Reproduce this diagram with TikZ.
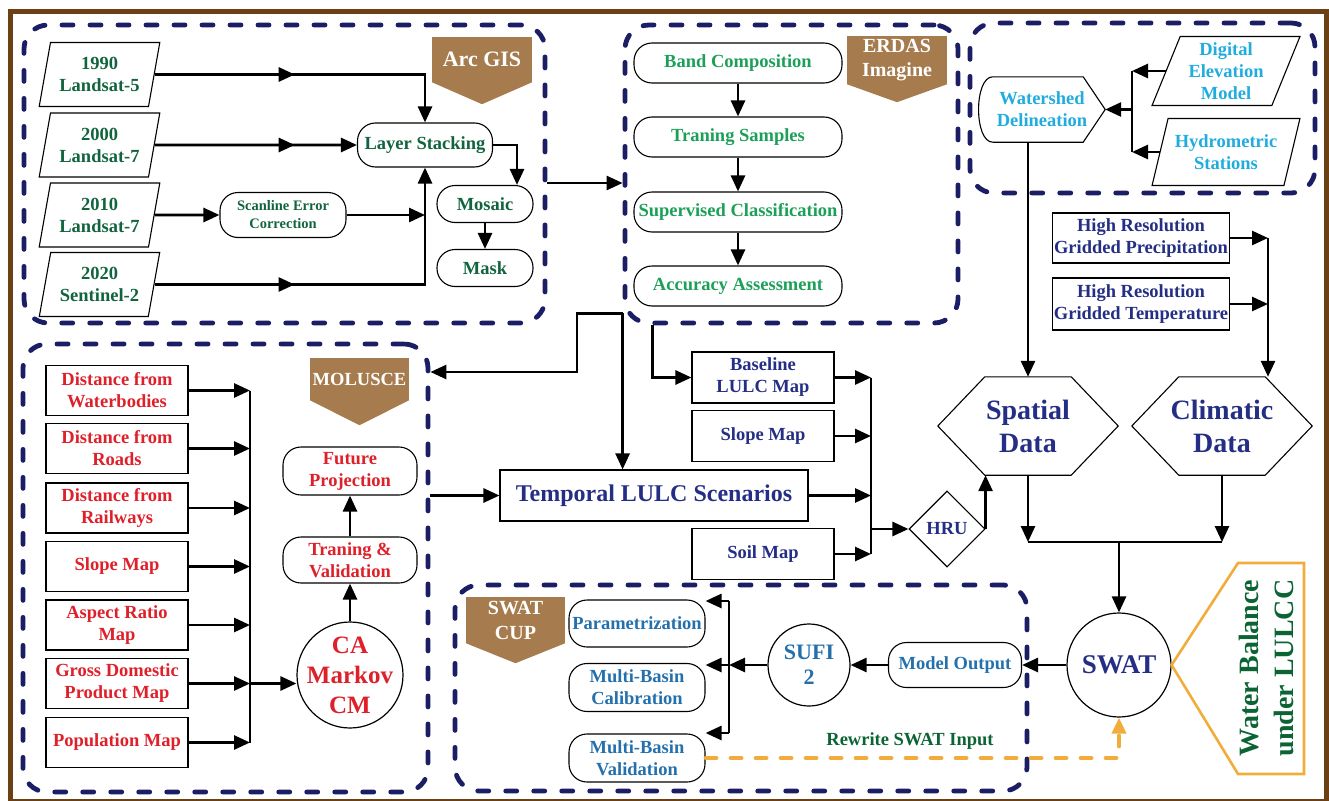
\documentclass[tikz,border=0pt]{standalone}
\usepackage{fontspec}
\setmainfont{Liberation Serif}
\usetikzlibrary{shapes.geometric,shapes.misc,positioning,arrows.meta,decorations.markings}

\definecolor{framebrown}{RGB}{107,64,21}
\definecolor{zoneblue}{RGB}{27,30,100}
\definecolor{tagbrown}{RGB}{166,124,78}
\definecolor{arcgreen}{RGB}{18,100,62}
\definecolor{erdgreen}{RGB}{28,160,88}
\definecolor{hydcyan}{RGB}{32,172,222}
\definecolor{navytxt}{RGB}{36,46,132}
\definecolor{molred}{RGB}{222,32,42}
\definecolor{cupblue}{RGB}{36,112,172}
\definecolor{wborange}{RGB}{242,172,60}
\definecolor{wbgreen}{RGB}{12,100,52}

% pointed bottom of a software tag
\newcommand{\tagtip}[2]{\fill[tagbrown] (#1.south west) -- (#1.south east) -- ([yshift=-#2pt]#1.south) -- cycle;}
% hexagon outline round a node
\newcommand{\hexof}[2]{\draw[line width=1.1pt] ([xshift=#2]#1.north west) -- ([xshift=-#2]#1.north east) -- (#1.east)
  -- ([xshift=-#2]#1.south east) -- ([xshift=#2]#1.south west) -- (#1.west) -- cycle;}

\begin{document}
\begin{tikzpicture}[x=1pt,y=-1pt,
  >={Triangle[length=16pt,width=14pt]},
  font=\bfseries\fontsize{18.5}{22}\selectfont,
  zone/.style={draw=zoneblue,line width=4.8pt,dash pattern=on 11pt off 17pt,line cap=round,rounded corners=24pt},
  tag/.style={fill=tagbrown,text=white,inner sep=1pt,align=center,minimum width=100,minimum height=45},
  data/.style={trapezium,trapezium left angle=75,trapezium right angle=105,trapezium stretches=true,
    draw,line width=1.1pt,minimum width=121,minimum height=64,inner sep=0pt,align=center},
  pill/.style={rectangle,rounded corners=18pt,draw,line width=1.1pt,inner sep=2pt,align=center},
  box/.style={rectangle,draw,line width=1.1pt,inner sep=1pt,align=center},
  disc/.style={circle,draw,line width=1.2pt,inner sep=0pt,align=center},
  flow/.style={->,line width=2.7pt},
  link/.style={line width=2.7pt},
  midarrow/.style={postaction={decorate},decoration={markings,mark=at position #1 with {\arrow{>}}}}
]
\useasboundingbox (0,0) rectangle (1329,800);
\draw[framebrown,line width=5pt] (10,12) rectangle (1326,801);

% Arc GIS
\node[zone,minimum width=521,minimum height=298] (arcgis) at (284.5,174) {};
\node[tag,font=\bfseries\fontsize{22}{24}\selectfont] (arctag) at (482,59.5) {Arc GIS};
\tagtip{arctag}{22}
\node[data,text=arcgreen] (y1990) at (99.5,74.5) {1990\\Landsat-5};
\node[data,text=arcgreen] (y2000) at (99.5,145) {2000\\Landsat-7};
\node[data,text=arcgreen] (y2010) at (99.5,215) {2010\\Landsat-7};
\node[data,text=arcgreen] (y2020) at (99.5,284.5) {2020\\Sentinel-2};
\node[pill,text=arcgreen,minimum width=135,minimum height=44] (stack) at (425,145) {Layer Stacking};
\node[pill,text=arcgreen,minimum width=126,minimum height=45,font=\bfseries\fontsize{14.5}{18}\selectfont] (scanfix) at (283,215) {Scanline Error\\Correction};
\node[pill,text=arcgreen,minimum width=96,minimum height=37] (mosaic) at (485,204) {Mosaic};
\node[pill,text=arcgreen,minimum width=96,minimum height=37] (mask) at (485,268) {Mask};

\draw[flow,midarrow=140pt] (y1990.east) -| (stack.north);
\draw[flow,midarrow=140pt] (y2000.east) -- (stack.west);
\draw[flow] (y2010.east) -- (scanfix.west);
\draw[flow] (scanfix.east) -- (scanfix.east -| stack.south);
\draw[flow,midarrow=140pt] (y2020.east) -| (stack.south);
\draw[flow] (stack.east) -| ([xshift=32pt]mosaic.north);
\draw[flow] (mosaic) -- (mask);

% ERDAS Imagine
\node[zone,minimum width=333,minimum height=298] (erdas) at (791.5,174) {};
\node[tag,minimum height=48,font=\bfseries\fontsize{20}{24}\selectfont] (erdastag) at (897,60) {ERDAS\\Imagine};
\tagtip{erdastag}{18}
\node[pill,text=erdgreen,minimum width=208,minimum height=40] (band) at (738,63) {Band Composition};
\node[pill,text=erdgreen,minimum width=208,minimum height=40] (train) at (738,137) {Traning Samples};
\node[pill,text=erdgreen,minimum width=208,minimum height=40] (superv) at (738,212) {Supervised Classification};
\node[pill,text=erdgreen,minimum width=208,minimum height=40] (accur) at (738,286) {Accuracy Assessment};
\draw[flow] (band) -- (train);
\draw[flow] (train) -- (superv);
\draw[flow] (superv) -- (accur);

\draw[flow] ([yshift=-9pt]arcgis.east) -- ([yshift=-9pt]erdas.west);

% watershed inputs
\node[zone,minimum width=345,minimum height=170] (hydro) at (1142.5,108) {};
\node[data,text=hydcyan,trapezium left angle=68,trapezium right angle=112,minimum width=148,minimum height=69] (dem) at (1226,71) {Digital\\Elevation\\Model};
\node[data,text=hydcyan,trapezium left angle=68,trapezium right angle=112,minimum width=148,minimum height=67] (gauge) at (1226,152) {Hydrometric\\Stations};
\node[text=hydcyan,minimum width=126,minimum height=65,inner sep=0pt,align=center] (shed) at (1042,109.5) {Watershed\\Delineation};
\draw[line width=1.1pt] ([xshift=14pt]shed.north west) -- ([xshift=-22pt]shed.north east) -- (shed.east)
  -- ([xshift=-22pt]shed.south east) -- ([xshift=14pt]shed.south west)
  .. controls ([xshift=-5pt]shed.south west) and ([xshift=-5pt]shed.north west) .. ([xshift=14pt]shed.north west) -- cycle;
\coordinate (hbus) at (1132,109.5);
\draw[flow] (dem.west) -- (dem.west -| hbus);
\draw[flow] (gauge.west) -- (gauge.west -| hbus);
\draw[link] (dem.west -| hbus) -- (gauge.west -| hbus);
\draw[flow] (hbus) -- (shed.east);

% climate inputs
\node[box,text=navytxt,minimum width=177,minimum height=50] (prcp) at (1141,238) {High Resolution\\Gridded Precipitation};
\node[box,text=navytxt,minimum width=177,minimum height=52] (temp) at (1141,304) {High Resolution\\Gridded Temperature};

\node[text=navytxt,minimum width=180,minimum height=98,inner sep=0pt,align=center,font=\bfseries\fontsize{28}{33}\selectfont] (spatial) at (1028,426) {Spatial\\Data};
\hexof{spatial}{47pt}
\node[text=navytxt,minimum width=180,minimum height=98,inner sep=0pt,align=center,font=\bfseries\fontsize{28}{33}\selectfont] (climatic) at (1222,426) {Climatic\\Data};
\hexof{climatic}{47pt}

\draw[flow] (shed.south -| spatial.north) -- (spatial.north);
\coordinate (cbus) at (1268,238);
\draw[flow] (prcp.east) -- (prcp.east -| cbus);
\draw[flow] (temp.east) -- (temp.east -| cbus);
\draw[flow] (cbus) -- (cbus |- climatic.north);

% SWAT
\node[disc,text=navytxt,minimum size=104,font=\bfseries\fontsize{27}{30}\selectfont] (swat) at (1119,665) {SWAT};
\coordinate (merge) at (1119,542);
\draw[flow] (spatial.south) -- (spatial.south |- merge);
\draw[flow] (climatic.south) -- (climatic.south |- merge);
\draw[link] (spatial.south |- merge) -- (climatic.south |- merge);
\draw[flow] (merge) -- (swat.north);

\draw[wborange,line width=2.6pt] (swat.east) -- (1238,563) -- (1304,563) -- (1304,774) -- (1238,774) -- cycle;
\node[rotate=90,text=wbgreen,align=center,font=\bfseries\fontsize{28}{35}\selectfont] (balance) at (1266,668) {Water Balance\\under LULCC};

% HRU inputs
\node[box,text=navytxt,minimum width=142,minimum height=51] (base) at (763,377.5) {Baseline\\LULC Map};
\node[box,text=navytxt,minimum width=142,minimum height=51] (slope) at (763,436) {Slope Map};
\node[box,text=navytxt,minimum width=308,minimum height=51,font=\bfseries\fontsize{24}{28}\selectfont] (scen) at (654,495.5) {Temporal LULC Scenarios};
\node[box,text=navytxt,minimum width=142,minimum height=51] (soil) at (763,554) {Soil Map};
\node[diamond,draw,line width=1.1pt,aspect=1,minimum size=76,inner sep=0pt,text=navytxt] (hru) at (947,529) {HRU};
\coordinate (lbus) at (871,529);
\draw[flow] (base.east) -- (base.east -| lbus);
\draw[flow] (slope.east) -- (slope.east -| lbus);
\draw[flow] (scen.east) -- (scen.east -| lbus);
\draw[flow] (soil.east) -- (soil.east -| lbus);
\draw[link] (base.east -| lbus) -- (soil.east -| lbus);
\draw[flow] (lbus) -- (hru.west);
\draw[flow] (hru.east) -- (hru.east |- spatial.south);

% MOLUSCE
\node[zone,minimum width=405,minimum height=448] (molusce) at (225.5,568) {};
\node[tag,minimum width=99,minimum height=42,font=\bfseries\fontsize{18.5}{22}\selectfont] (moltag) at (359.5,379) {MOLUSCE};
\tagtip{moltag}{25}
\node[box,text=molred,minimum width=142,minimum height=50] (fwater) at (117,390.5) {Distance from\\Waterbodies};
\node[box,text=molred,minimum width=142,minimum height=50] (froad) at (117,448.5) {Distance from\\Roads};
\node[box,text=molred,minimum width=142,minimum height=50] (frail) at (117,508) {Distance from\\Railways};
\node[box,text=molred,minimum width=142,minimum height=50] (fslope) at (117,566.5) {Slope Map};
\node[box,text=molred,minimum width=142,minimum height=50] (faspect) at (117,625) {Aspect Ratio\\Map};
\node[box,text=molred,minimum width=142,minimum height=50] (fgdp) at (117,683.5) {Gross Domestic\\Product Map};
\node[box,text=molred,minimum width=142,minimum height=50] (fpop) at (117,742.5) {Population Map};
\node[disc,text=molred,minimum size=106,inner sep=-8pt,font=\bfseries\fontsize{25}{30}\selectfont] (ca) at (350,675) {CA\\Markov\\CM};
\node[pill,text=molred,minimum width=134,minimum height=46] (trainval) at (350,560) {Traning \&\\Validation};
\node[pill,text=molred,minimum width=134,minimum height=48] (future) at (350,471) {Future\\Projection};

\coordinate (mbus) at (250,683.5);
\foreach \f in {fwater,froad,frail,fslope,faspect,fgdp,fpop}
  \draw[flow] (\f.east) -- (\f.east -| mbus);
\draw[link] (fwater.east -| mbus) -- (fpop.east -| mbus);
\draw[flow] (mbus) -- (mbus -| ca.west);
\draw[flow] (ca) -- (trainval);
\draw[flow] (trainval) -- (future);

% links between the blocks
\coordinate (split) at ([yshift=12pt]erdas.south west);
\coordinate (bend) at (577,372);
\draw[flow] (split) -- (split |- scen.north);
\draw[flow] (split) -| (bend) -- (bend -| molusce.east);
\draw[flow] ([xshift=30pt]erdas.south west) |- (base.west);
\draw[flow] (molusce.east |- scen.west) -- (scen.west);

% SWAT CUP
\node[zone,minimum width=572,minimum height=206] (swatcup) at (741,688) {};
\node[tag,minimum width=99,minimum height=46,font=\bfseries\fontsize{20}{25}\selectfont] (cuptag) at (515.5,620) {SWAT\\CUP};
\tagtip{cuptag}{20}
\node[pill,text=cupblue,minimum width=136,minimum height=47] (param) at (637,623.5) {Parametrization};
\node[pill,text=cupblue,minimum width=136,minimum height=48] (calib) at (637,687.5) {Multi-Basin\\Calibration};
\node[pill,text=cupblue,minimum width=136,minimum height=48] (valid) at (637,758) {Multi-Basin\\Validation};
\node[disc,text=cupblue,minimum size=82,font=\bfseries\fontsize{22}{25}\selectfont] (sufi) at (809,665) {SUFI\\2};
\node[pill,text=cupblue,minimum width=133,minimum height=45] (modout) at (955,665) {Model Output};
\node[text=wbgreen] (rewrite) at (910,741) {Rewrite SWAT Input};

\draw[flow] (swat) -- (modout);
\draw[flow] (modout) -- (sufi);
\coordinate (cupbus) at (729,665);
\coordinate (cuptop) at (729,601);
\coordinate (cupbot) at (729,733);
\draw[flow] (sufi) -- (cupbus);
\draw[link] (cuptop) -- (cupbot);
\draw[flow] (cuptop) -- (cuptop -| param.east);
\draw[flow] (cupbus) -- (cupbus -| calib.east);
\draw[flow] (cupbot) -- (cupbot -| valid.east);
\draw[->,wborange,line width=3.8pt,dash pattern=on 11pt off 14pt,line cap=round] (valid.east) -| (swat.south);
\end{tikzpicture}
\end{document}
